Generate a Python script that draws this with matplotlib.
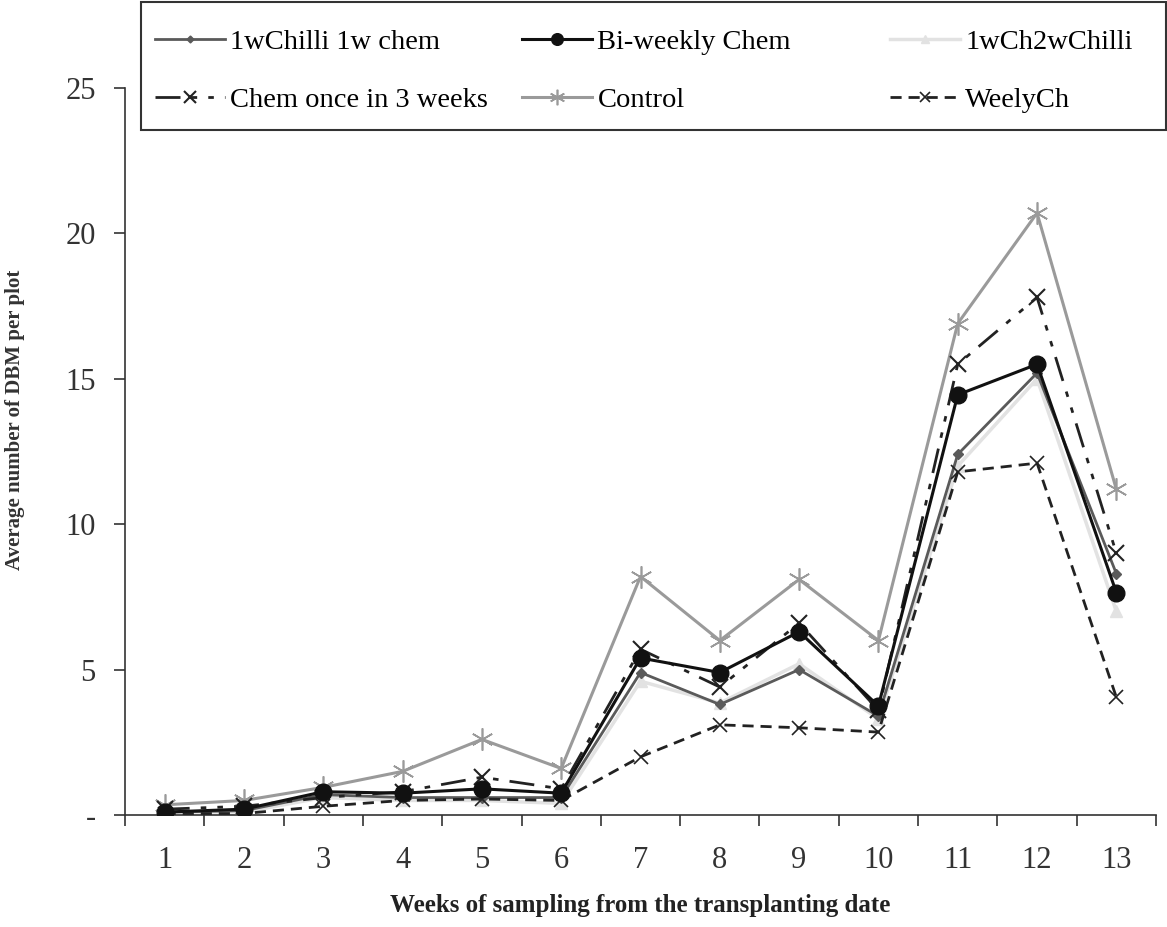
import matplotlib
matplotlib.use("Agg")
import matplotlib.pyplot as plt
from matplotlib.patches import Rectangle
from matplotlib.ticker import FixedLocator, FuncFormatter

plt.rcParams['font.family'] = ['Liberation Serif', 'DejaVu Serif']

weeks = list(range(1, 14))

chilli_1w_chem = [0.1, 0.15, 0.7, 0.6, 0.6, 0.6, 4.9, 3.8, 5.0, 3.4, 12.4, 15.2, 8.3]
biweekly_chem = [0.1, 0.2, 0.8, 0.75, 0.9, 0.75, 5.4, 4.9, 6.3, 3.75, 14.45, 15.5, 7.65]
ch1w_chilli2w = [0.1, 0.1, 0.6, 0.5, 0.5, 0.4, 4.6, 3.85, 5.2, 3.3, 12.0, 15.0, 7.0]
chem_3weeks = [0.2, 0.3, 0.6, 0.8, 1.3, 0.9, 5.7, 4.4, 6.6, 3.6, 15.5, 17.8, 9.0]
control = [0.35, 0.5, 0.95, 1.5, 2.6, 1.6, 8.2, 6.0, 8.1, 6.0, 16.9, 20.7, 11.2]
weekly_ch = [0.05, 0.05, 0.3, 0.5, 0.55, 0.5, 2.0, 3.1, 3.0, 2.85, 11.8, 12.1, 4.05]

W, H = 1167, 927
fig = plt.figure(figsize=(W/100, H/100), dpi=100)
ax = fig.add_axes([125/W, 1-815/H, (1156-125)/W, (815-88)/H])

l1, = ax.plot(weeks, chilli_1w_chem, color='#5a5a5a', lw=2, marker='D', ms=5,
              label='1wChilli 1w chem', zorder=4)
l2, = ax.plot(weeks, biweekly_chem, color='#111111', lw=2.2, marker='o', ms=12,
              label='Bi-weekly Chem', zorder=5)
l3, = ax.plot(weeks, ch1w_chilli2w, color='#e2e2e2', lw=2.5, marker='^', ms=8,
              label='1wCh2wChilli', zorder=3)
l4, = ax.plot(weeks, chem_3weeks, color='#222222', lw=2, marker='x', ms=12, mew=1.5,
              dashes=(9, 4, 2, 4, 2, 4), label='Chem once in 3 weeks', zorder=4)
l5, = ax.plot(weeks, control, color='#9a9a9a', lw=2.2, marker=(6, 2, 0), ms=16, mew=1.2,
              label='Control', zorder=2)
l6, = ax.plot(weeks, weekly_ch, color='#222222', lw=2, marker='x', ms=10, mew=1.2,
              dashes=(4, 2.5), label='WeelyCh', zorder=4)

ax.set_xlim(0.5, 13.5)
ax.set_ylim(0, 25)
ax.spines['top'].set_visible(False)
ax.spines['right'].set_visible(False)
for s in ('left', 'bottom'):
    ax.spines[s].set_color('#333333')
    ax.spines[s].set_linewidth(1.2)

ax.set_yticks([0, 5, 10, 15, 20, 25])
ax.yaxis.set_major_formatter(FuncFormatter(lambda v, p: '-' if v == 0 else '%d' % v))
ax.tick_params(axis='y', direction='out', length=8, width=1.2, labelsize=22,
               pad=13, colors='#333333')

# category ticks sit between the week labels
ax.set_xticks(weeks)
ax.xaxis.set_minor_locator(FixedLocator([w + 0.5 for w in range(0, 14)]))
ax.tick_params(axis='x', which='major', length=0, labelsize=22, pad=22, colors='#333333')
ax.tick_params(axis='x', which='minor', direction='out', length=8, width=1.2, color='#333333')

ax.set_xlabel('Weeks of sampling from the transplanting date', fontsize=18,
              fontweight='bold', labelpad=14, color='#222222')
fig.text(15/W, 1-420/H, 'Average number of DBM per plot', rotation=90, ha='center',
         va='center', fontsize=15, fontweight='bold', color='#333333')

# legend box across the top, three columns laid out separately
fig.add_artist(Rectangle((141/W, 1-130/H), (1166-141)/W, 128/H, transform=fig.transFigure,
                         facecolor='white', edgecolor='#333333', lw=1.5, zorder=3))
columns = [(155, [l1, l4]), (522, [l2, l5]), (890, [l3, l6])]
for x0, handles in columns:
    fig.legend(handles=handles, loc='upper left', bbox_to_anchor=(x0/W, 1-29/H),
               frameon=False, fontsize=20.5, borderpad=0, borderaxespad=0,
               handlelength=2.45, handletextpad=0.2, labelspacing=1.12,
               markerscale=0.7).set_zorder(4)

fig.savefig('out.png', dpi=100)
